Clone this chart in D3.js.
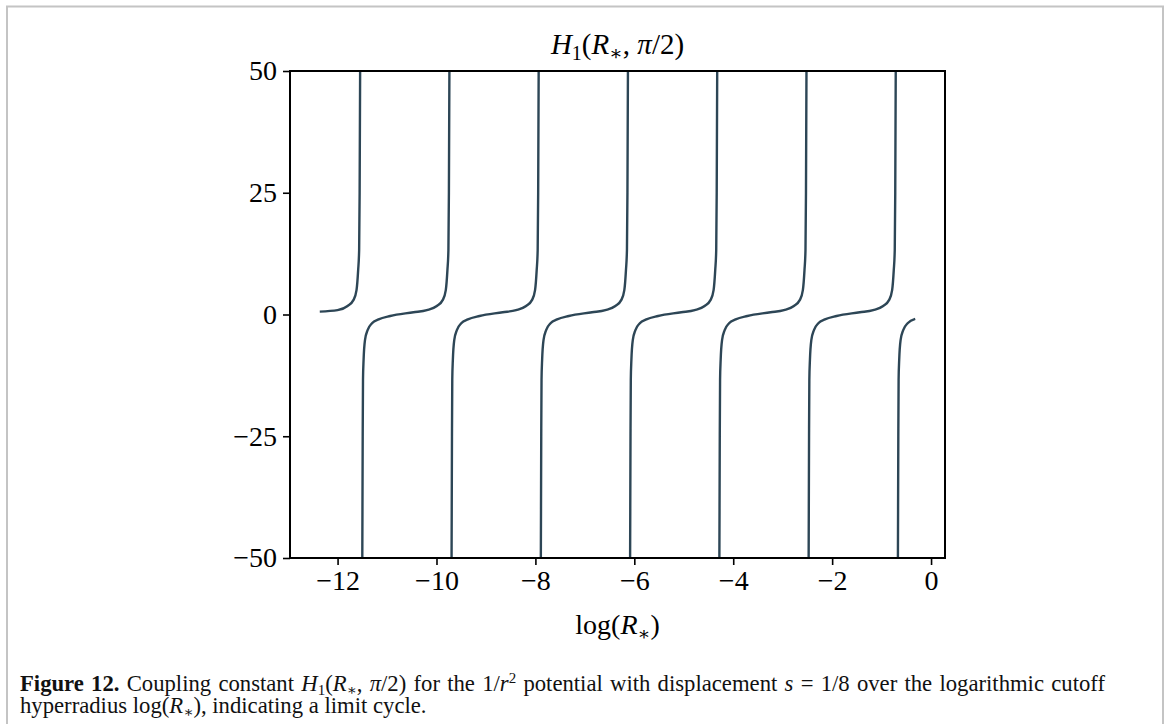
<!DOCTYPE html>
<html>
<head>
<meta charset="utf-8">
<title>H1 limit cycle</title>
<script src="https://cdn.jsdelivr.net/npm/d3@7"></script>
<style>
  body { margin: 0; background: #fff; }
  svg text { font-family: "Liberation Serif", "DejaVu Serif", serif; }
</style>
</head>
<body>
<svg id="chart" width="1170" height="724"></svg>
<script>
// tick labels
var xTicks = [-12, -10, -8, -6, -4, -2, 0];
var yTicks = [-50, -25, 0, 25, 50];

// H1 values, one array per branch (log R*, H1)
var branch1X = [-12.36, -12.0, -11.798, -11.677, -11.617, -11.584, -11.564, -11.554, -11.544];
var branch1Y = [0.6, 0.9, 1.75, 3.0, 5.0, 9.1, 13.2, 25, 50];

var fullBranchY = [-50, -25, -13.4, -9.3, -5.2, -3.2, -1.8, -1.0, -0.3, 0.45, 0.9, 1.75, 3.0, 5.0, 9.1, 13.2, 25, 50];
var branch2X = [-11.50, -11.492, -11.486, -11.474, -11.445, -11.393, -11.304, -11.171, -10.935, -10.465, -10.195, -9.993, -9.872, -9.812, -9.779, -9.759, -9.749, -9.739];
var branch3X = [-9.695, -9.687, -9.681, -9.669, -9.640, -9.588, -9.499, -9.366, -9.130, -8.660, -8.390, -8.188, -8.067, -8.007, -7.974, -7.954, -7.944, -7.934];
var branch4X = [-7.89, -7.882, -7.876, -7.864, -7.835, -7.783, -7.694, -7.561, -7.325, -6.855, -6.585, -6.383, -6.262, -6.202, -6.169, -6.149, -6.139, -6.129];
var branch5X = [-6.085, -6.077, -6.071, -6.059, -6.030, -5.978, -5.889, -5.756, -5.520, -5.050, -4.780, -4.578, -4.457, -4.397, -4.364, -4.344, -4.334, -4.324];
var branch6X = [-4.28, -4.272, -4.266, -4.254, -4.225, -4.173, -4.084, -3.951, -3.715, -3.245, -2.975, -2.773, -2.652, -2.592, -2.559, -2.539, -2.529, -2.519];
var branch7X = [-2.475, -2.467, -2.461, -2.449, -2.420, -2.368, -2.279, -2.146, -1.910, -1.440, -1.170, -0.968, -0.847, -0.787, -0.754, -0.734, -0.724, -0.714];

var branch8X = [-0.67, -0.662, -0.656, -0.644, -0.615, -0.563, -0.474, -0.32];
var branch8Y = [-50, -25, -13.4, -9.3, -5.2, -3.2, -1.8, -0.9];

var svg = d3.select("#chart");
var margin = { top: 71, right: 225, bottom: 166, left: 290 },
    width = 1170 - margin.left - margin.right,
    height = 724 - margin.top - margin.bottom;

// light page frame
svg.append("path")
    .attr("d", "M7,730 V6.5 H1163 V730")
    .attr("fill", "none")
    .attr("stroke", "#c4c4c4")
    .attr("stroke-width", 2);

var g = svg.append("g")
    .attr("transform", "translate(" + margin.left + "," + margin.top + ")");

var x = d3.scaleLinear().domain([-12.962, 0.282]).range([0, width]);
var y = d3.scaleLinear().domain([-50, 50]).range([height, 0]);

g.append("clipPath").attr("id", "plotclip")
  .append("rect").attr("width", width).attr("height", height);

var line = d3.line()
    .x(function (d) { return x(d[0]); })
    .y(function (d) { return y(d[1]); })
    .curve(d3.curveMonotoneX);

var branches = [
    d3.zip(branch1X, branch1Y),
    d3.zip(branch2X, fullBranchY),
    d3.zip(branch3X, fullBranchY),
    d3.zip(branch4X, fullBranchY),
    d3.zip(branch5X, fullBranchY),
    d3.zip(branch6X, fullBranchY),
    d3.zip(branch7X, fullBranchY),
    d3.zip(branch8X, branch8Y)
];

g.append("g").attr("clip-path", "url(#plotclip)")
  .selectAll("path")
  .data(branches)
  .enter().append("path")
    .attr("d", line)
    .attr("fill", "none")
    .attr("stroke", "#2d4656")
    .attr("stroke-width", 2.4);

// axes
var xAxis = g.append("g")
    .attr("transform", "translate(0," + height + ")")
    .call(d3.axisBottom(x).tickValues(xTicks).tickSize(7).tickPadding(5));
var yAxis = g.append("g")
    .call(d3.axisLeft(y).tickValues(yTicks).tickSize(7).tickPadding(6));

[xAxis, yAxis].forEach(function (a) {
    a.attr("font-family", null).attr("font-size", null);
    a.select(".domain").remove();
    a.selectAll(".tick line").attr("stroke", "#000").attr("stroke-width", 1.6);
    a.selectAll(".tick text")
        .attr("fill", "#000")
        .style("font-size", "28px");
});

// spines
g.append("rect")
    .attr("width", width)
    .attr("height", height)
    .attr("fill", "none")
    .attr("stroke", "#000")
    .attr("stroke-width", 2);

// title
var title = svg.append("text")
    .attr("x", margin.left + width / 2)
    .attr("y", 54)
    .attr("text-anchor", "middle")
    .style("font-size", "29px");
title.append("tspan").style("font-style", "italic").text("H");
title.append("tspan").attr("dy", 6).style("font-size", "20px").text("1");
title.append("tspan").attr("dy", -6).text("(");
title.append("tspan").style("font-style", "italic").text("R");
title.append("tspan").attr("dy", 6).style("font-size", "20px").text("∗");
title.append("tspan").attr("dy", -6).text(", ");
title.append("tspan").style("font-style", "italic").text("π");
title.append("tspan").text("/2)");

// x label
var xl = svg.append("text")
    .attr("x", margin.left + width / 2)
    .attr("y", 634)
    .attr("text-anchor", "middle")
    .style("font-size", "28px");
xl.append("tspan").text("log(");
xl.append("tspan").style("font-style", "italic").text("R");
xl.append("tspan").attr("dy", 6).style("font-size", "19px").text("∗");
xl.append("tspan").attr("dy", -6).text(")");

// caption
var capSize = "22.7px", subSize = "15px";
var cap1 = svg.append("text").attr("x", 20).attr("y", 691).style("font-size", capSize).attr("fill", "#111");
cap1.append("tspan").style("font-weight", "bold").text("Figure 12.");
cap1.append("tspan").text(" Coupling constant ");
cap1.append("tspan").style("font-style", "italic").text("H");
cap1.append("tspan").attr("dy", 4).style("font-size", subSize).text("1");
cap1.append("tspan").attr("dy", -4).text("(");
cap1.append("tspan").style("font-style", "italic").text("R");
cap1.append("tspan").attr("dy", 4).style("font-size", subSize).text("∗");
cap1.append("tspan").attr("dy", -4).text(", ");
cap1.append("tspan").style("font-style", "italic").text("π");
cap1.append("tspan").text("/2) for the 1/");
cap1.append("tspan").style("font-style", "italic").text("r");
cap1.append("tspan").attr("dy", -8).style("font-size", subSize).text("2");
cap1.append("tspan").attr("dy", 8).text(" potential with displacement ");
cap1.append("tspan").style("font-style", "italic").text("s");
cap1.append("tspan").text(" = 1/8 over the logarithmic cutoff");

// justify the first caption line to the text block width
var capWidth = 1105 - 20;
var natural = cap1.node().getComputedTextLength();
if (natural < capWidth) {
    cap1.style("word-spacing", ((capWidth - natural) / 18) + "px");
}

var cap2 = svg.append("text").attr("x", 20).attr("y", 713).style("font-size", capSize).attr("fill", "#111");
cap2.append("tspan").text("hyperradius log(");
cap2.append("tspan").style("font-style", "italic").text("R");
cap2.append("tspan").attr("dy", 4).style("font-size", subSize).text("∗");
cap2.append("tspan").attr("dy", -4).text("), indicating a limit cycle.");
</script>
</body>
</html>
